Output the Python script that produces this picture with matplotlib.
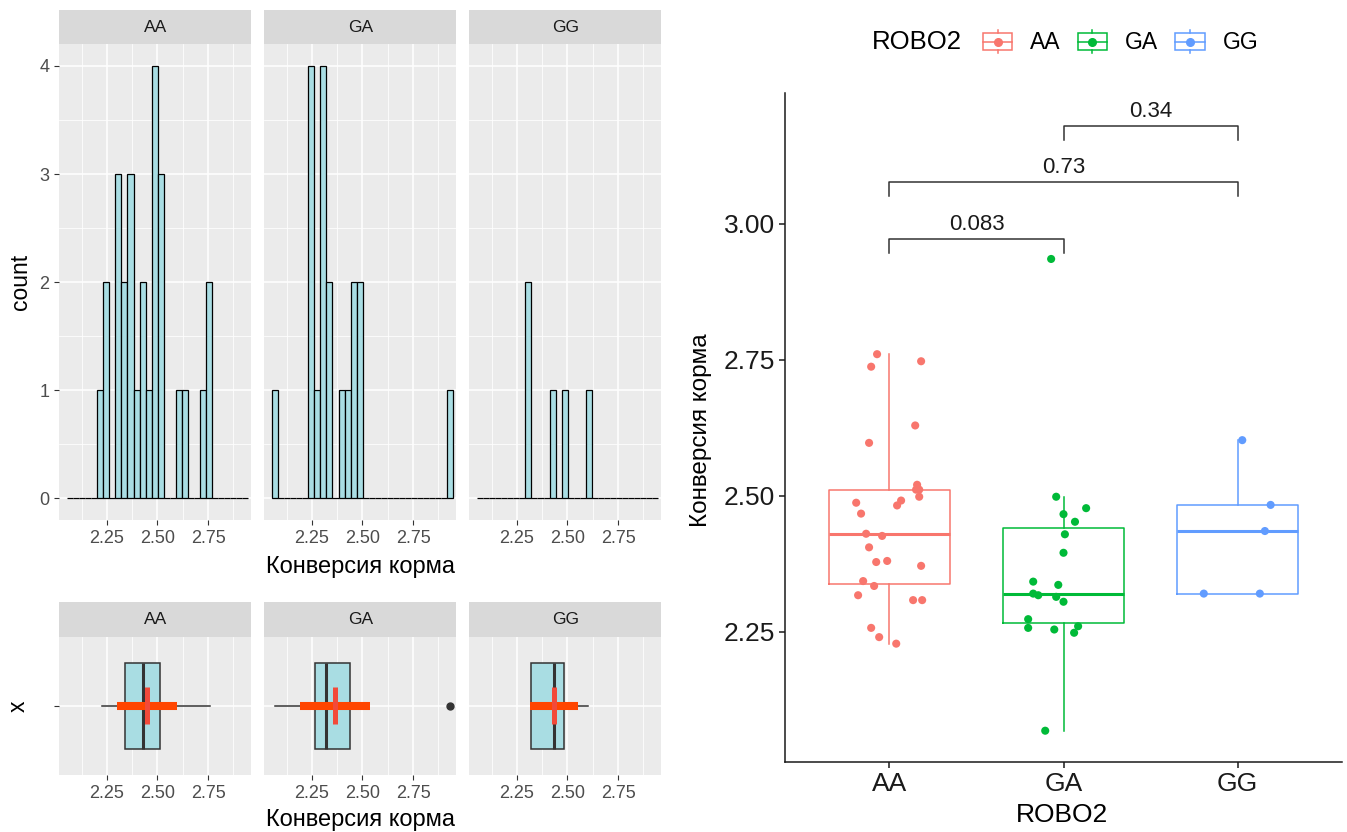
import numpy as np
import matplotlib
matplotlib.use("Agg")
import matplotlib.pyplot as plt
from matplotlib.patches import Rectangle
from matplotlib.lines import Line2D
from matplotlib.legend_handler import HandlerBase
from matplotlib.ticker import MultipleLocator, FormatStrFormatter

plt.rcParams['font.family'] = ['Liberation Sans', 'DejaVu Sans']

# ---------------- data ----------------
genotypes = ['AA', 'GA', 'GG']

aa_values = [2.760, 2.737, 2.747, 2.629, 2.597, 2.520, 2.511, 2.511, 2.498, 2.491,
             2.487, 2.482, 2.467, 2.430, 2.426, 2.405, 2.380, 2.378, 2.371, 2.343,
             2.334, 2.317, 2.308, 2.308, 2.257, 2.240, 2.228]
aa_jitter = [-0.071, -0.105, 0.182, 0.148, -0.117, 0.159, 0.171, 0.153, 0.171, 0.067,
             -0.191, 0.044, -0.163, -0.134, -0.042, -0.117, -0.013, -0.076, 0.182, -0.151,
             -0.088, -0.180, 0.136, 0.188, -0.105, -0.059, 0.039]

ga_values = [2.935, 2.498, 2.466, 2.477, 2.452, 2.429, 2.395, 2.342, 2.336, 2.320,
             2.317, 2.314, 2.305, 2.273, 2.260, 2.257, 2.254, 2.248, 2.068]
ga_jitter = [-0.071, -0.042, 0.0, 0.130, 0.066, 0.008, 0.0, -0.174, -0.030, -0.174,
             -0.145, -0.042, 0.0, -0.203, 0.084, -0.203, -0.053, 0.061, -0.105]

gg_values = [2.602, 2.483, 2.435, 2.320, 2.320]
gg_jitter = [0.027, 0.190, 0.157, -0.194, 0.128]

p_labels = ['0.083', '0.73', '0.34']
p_pairs = [(0, 1), (0, 2), (1, 2)]
p_heights = [2.972, 3.076, 3.180]

hist_bins_n = 30
x_title = 'Конверсия корма'
group_title = 'ROBO2'

# ---------------- styling ----------------
W, H = 1347, 832
colors = ['#F8766D', '#00BA38', '#619CFF']
fill_blue = '#A9DDE3'
groups = [aa_values, ga_values, gg_values]
jitters = [aa_jitter, ga_jitter, gg_jitter]

def fx(px):
    return px / W

def fy(py):
    return 1 - py / H

fig = plt.figure(figsize=(W / 100, H / 100), dpi=100)

def gg_panel(ax):
    ax.set_facecolor('#EBEBEB')
    for s in ax.spines.values():
        s.set_visible(False)
    ax.grid(True, which='major', color='white', lw=1.1)
    ax.grid(True, which='minor', color='white', lw=0.55)
    ax.set_axisbelow(True)
    ax.tick_params(which='major', length=3.5, width=0.8, color='#333333',
                   labelcolor='#4D4D4D', labelsize=13, pad=3.6)
    ax.tick_params(which='minor', length=0)

def strip(left, top, bottom, width, text):
    sax = fig.add_axes([fx(left), fy(bottom), width / W, (bottom - top) / H])
    sax.set_facecolor('#D9D9D9')
    for s in sax.spines.values():
        s.set_visible(False)
    sax.set_xticks([])
    sax.set_yticks([])
    sax.text(0.5, 0.5, text, ha='center', va='center', fontsize=12.5,
             color='#1A1A1A', transform=sax.transAxes)

# histogram bins like ggplot (bins=30, centred on min)
all_vals = np.concatenate([np.asarray(g) for g in groups])
lo, hi = all_vals.min(), all_vals.max()
bw = (hi - lo) / (hist_bins_n - 1)
edges = lo - bw / 2 + bw * np.arange(hist_bins_n + 1)
xlim_left = (2.015, 2.964)

panel_lefts = [59.3, 264.3, 469.3]
panel_w = 192.0

for i, (name, vals) in enumerate(zip(genotypes, groups)):
    L = panel_lefts[i]
    # --- histogram ---
    ax = fig.add_axes([fx(L), fy(520), panel_w / W, (520 - 44.3) / H])
    gg_panel(ax)
    ax.hist(vals, bins=edges, color=fill_blue, edgecolor='black', linewidth=0.9)
    ax.set_xlim(*xlim_left)
    ax.set_ylim(-0.2, 4.2)
    ax.xaxis.set_major_locator(MultipleLocator(0.25))
    ax.xaxis.set_minor_locator(MultipleLocator(0.125))
    ax.xaxis.set_major_formatter(FormatStrFormatter('%.2f'))
    ax.yaxis.set_major_locator(MultipleLocator(1))
    ax.yaxis.set_minor_locator(MultipleLocator(0.5))
    if i > 0:
        ax.tick_params(axis='y', which='major', length=0, labelleft=False)
    strip(L, 10, 44.3, panel_w, name)

    # --- horizontal boxplot ---
    bx = fig.add_axes([fx(L), fy(775), panel_w / W, (775 - 636.7) / H])
    gg_panel(bx)
    bx.boxplot(vals, orientation='horizontal', positions=[1], widths=0.75,
               patch_artist=True, showcaps=False,
               boxprops=dict(facecolor=fill_blue, edgecolor='#333333', lw=1.1),
               medianprops=dict(color='#333333', lw=2.2),
               whiskerprops=dict(color='#333333', lw=1.1),
               flierprops=dict(marker='o', markerfacecolor='#333333',
                               markeredgecolor='#333333', markersize=5))
    m = np.mean(vals)
    s = np.std(vals, ddof=1)
    bx.plot([m - s, m + s], [1, 1], color='#FF4500', lw=5.8, solid_capstyle='butt', zorder=4)
    bx.plot([m, m], [1 - 0.16, 1 + 0.16], color='#F24A3A', lw=3.6, solid_capstyle='butt', zorder=5)
    bx.set_xlim(*xlim_left)
    bx.set_ylim(0.4, 1.6)
    bx.set_yticks([1])
    bx.set_yticklabels([''])
    bx.xaxis.set_major_locator(MultipleLocator(0.25))
    bx.xaxis.set_minor_locator(MultipleLocator(0.125))
    bx.xaxis.set_major_formatter(FormatStrFormatter('%.2f'))
    if i > 0:
        bx.tick_params(axis='y', which='major', length=0)
    strip(L, 601.7, 636.7, panel_w, name)

fig.text(fx(20), fy(282), 'count', rotation=90, ha='center', va='center', fontsize=16.5, color='black')
fig.text(fx(361), fy(567), x_title, ha='center', va='center', fontsize=17, color='black')
fig.text(fx(18), fy(706), 'x', rotation=90, ha='center', va='center', fontsize=16.5, color='black')
fig.text(fx(361), fy(820), x_title, ha='center', va='center', fontsize=17, color='black')

# ---------------- right chart ----------------
ax = fig.add_axes([fx(785), fy(762), (1342 - 785) / W, (762 - 93) / H])
for side in ['top', 'right']:
    ax.spines[side].set_visible(False)
for side in ['left', 'bottom']:
    ax.spines[side].set_linewidth(1.1)
    ax.spines[side].set_color('#1A1A1A')

for i, (vals, jit, c) in enumerate(zip(groups, jitters, colors)):
    pos = i + 1
    ax.boxplot(vals, positions=[pos], widths=0.7, showfliers=False, showcaps=False,
               boxprops=dict(color=c, lw=1.1), whiskerprops=dict(color=c, lw=1.1),
               medianprops=dict(color=c, lw=2.2))
    ax.scatter(pos + np.asarray(jit), vals, s=34, color=c, edgecolors='none', zorder=3)

tip = 0.026
for (a, b), h, lab in zip(p_pairs, p_heights, p_labels):
    ax.plot([a + 1, a + 1, b + 1, b + 1], [h - tip, h, h, h - tip], color='#333333', lw=1.1)
    ax.annotate(lab, xy=((a + b) / 2 + 1, h), xytext=(0, 6.5), textcoords='offset points',
                ha='center', va='baseline', fontsize=16, color='#1A1A1A')

ax.set_xlim(0.4, 3.6)
ax.set_ylim(2.0105, 3.240)
ax.set_xticks([1, 2, 3])
ax.set_xticklabels(genotypes)
ax.set_yticks([2.25, 2.50, 2.75, 3.00])
ax.yaxis.set_major_formatter(FormatStrFormatter('%.2f'))
ax.tick_params(length=4, width=1.1, color='#1A1A1A', labelsize=19, labelcolor='#1A1A1A', pad=3)

fig.text(fx(701), fy(430), x_title, rotation=90, ha='center', va='center', fontsize=17.5, color='black')
fig.text(fx(1062), fy(815), group_title, ha='center', va='center', fontsize=19, color='black')

# legend
class BoxKey(HandlerBase):
    def create_artists(self, legend, orig_handle, xdescent, ydescent, width, height, fontsize, trans):
        c = orig_handle.get_color()
        x0, y0 = -xdescent, -ydescent
        bh = height * 0.72
        by = y0 + (height - bh) / 2
        cx = x0 + width / 2
        cy = y0 + height / 2
        arts = [
            Rectangle((x0, by), width, bh, fill=False, ec=c, lw=1.1, transform=trans),
            Line2D([x0, x0 + width], [cy, cy], color=c, lw=1.1, transform=trans),
            Line2D([cx, cx], [by + bh, y0 + height], color=c, lw=1.1, transform=trans),
            Line2D([cx, cx], [y0, by], color=c, lw=1.1, transform=trans),
            Line2D([cx], [cy], marker='o', color=c, markersize=5.5, lw=0, transform=trans),
        ]
        return arts

handles = [Line2D([], [], color=c) for c in colors]
fig.legend(handles, genotypes, handler_map={Line2D: BoxKey()}, ncol=3,
           loc='center left', bbox_to_anchor=(fx(983), fy(42)), frameon=False,
           fontsize=16.5, handlelength=1.27, handleheight=1.22, handletextpad=0.8,
           columnspacing=0.74, borderpad=0, borderaxespad=0)
fig.text(fx(872), fy(42), group_title, ha='left', va='center', fontsize=18.5, color='black')

fig.savefig('out.png', dpi=100)
